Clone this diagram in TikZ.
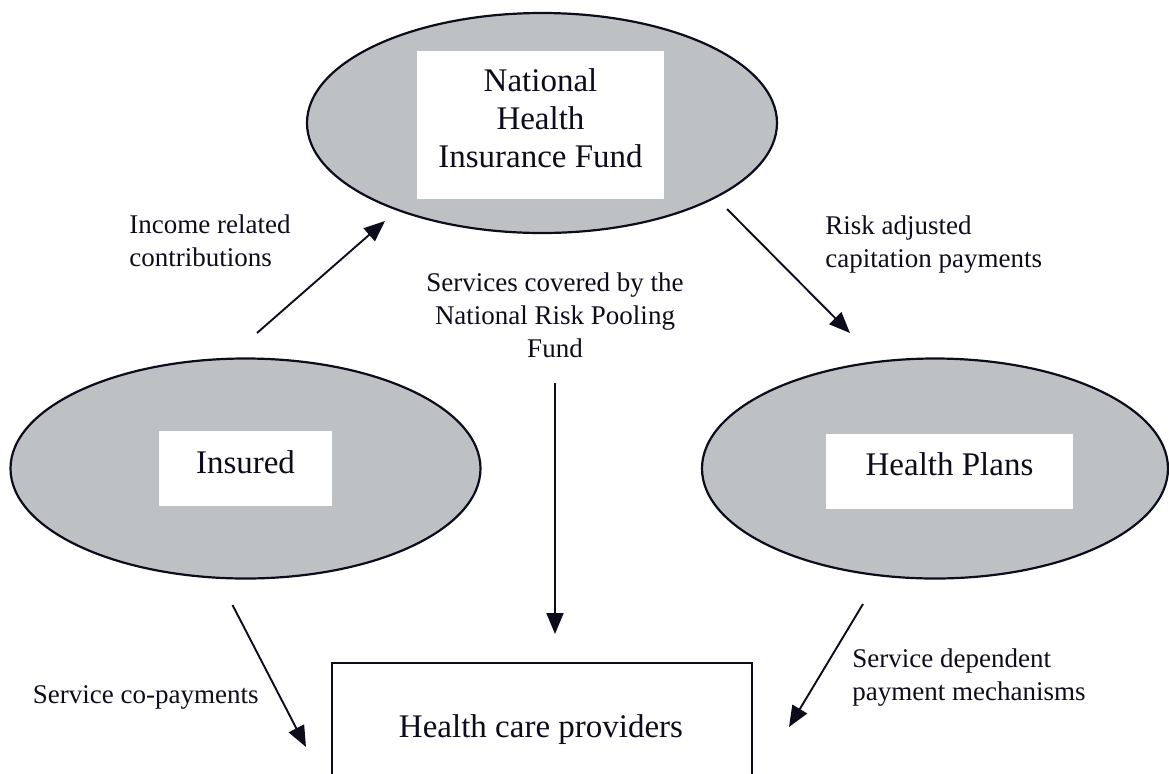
\documentclass[tikz,border=0pt]{standalone}
\usepackage{fontspec}
\setmainfont{Liberation Serif}
\usetikzlibrary{arrows.meta,shapes.geometric}
\definecolor{ink}{RGB}{12,12,28}
\definecolor{shade}{RGB}{190,193,196}
\begin{document}
\begin{tikzpicture}[x=0.5pt,y=-0.5pt,
  oval/.style={ellipse, draw=ink, line width=1.1pt, fill=shade, minimum width=235pt, minimum height=110pt, inner sep=0},
  whitebox/.style={rectangle, fill=white, draw=none, inner sep=0},
  title/.style={font=\fontsize{16.5}{19}\selectfont, text=ink, align=center, inner sep=0},
  lbl/.style={font=\fontsize{13.5}{16.5}\selectfont, text=ink, inner sep=0},
  flow/.style={draw=ink, line width=0.95pt, -{Triangle[length=10.5pt,width=8.5pt]}}
]
\clip (0,0) rectangle (1169,773);
% ovals
\node[oval] (fund) at (542,123) {};
\node[oval] (insured) at (245.5,468.5) {};
\node[oval, minimum width=233pt] (plans) at (935,468.5) {};
% white boxes
\node[whitebox, minimum width=123.5pt, minimum height=74pt] (fundbox) at (540.5,125) {};
\node[whitebox, minimum width=86.5pt, minimum height=37.5pt] (insbox) at (245.5,468.5) {};
\node[whitebox, minimum width=123.5pt, minimum height=37.5pt] (planbox) at (949.5,471.5) {};
% providers box (open at the bottom edge)
\node[rectangle, draw=ink, line width=0.95pt, minimum width=210pt, minimum height=90pt, inner sep=0] (prov) at (542,753) {};
% titles (anchor=base is the baseline of the last line)
\node[title, anchor=base] (fundtxt) at (540.5,167) {National\\Health\\Insurance Fund};
\node[title, anchor=base] (instxt) at (245.5,473) {Insured};
\node[title, anchor=base] (plantxt) at (949.5,475) {Health Plans};
\node[title, anchor=base] (provtxt) at (541,737) {Health care providers};
% labels
\node[lbl, align=left, anchor=base west] (l1) at (129,266) {Income related\\contributions};
\node[lbl, align=left, anchor=base west] (l2) at (825,267) {Risk adjusted\\capitation payments};
\node[lbl, align=center, anchor=base] (l3) at (555,357) {Services covered by the\\National Risk Pooling\\Fund};
\node[lbl, anchor=base east] (l4) at (259,703) {Service co-payments};
\node[lbl, align=left, anchor=base west] (l5) at (852,700) {Service dependent\\payment mechanisms};
% arrow end points
\coordinate (a1s) at (257,333); \coordinate (a1e) at (385,221);
\coordinate (a2s) at (727,209); \coordinate (a2e) at (850,333);
\coordinate (a3s) at (555,383); \coordinate (a3e) at (555,634);
\coordinate (a4s) at (232.5,605); \coordinate (a4e) at (306,747);
\coordinate (a5s) at (863,604); \coordinate (a5e) at (789,727);
\draw[flow] (a1s) -- (a1e);
\draw[flow] (a2s) -- (a2e);
\draw[flow] (a3s) -- (a3e);
\draw[flow] (a4s) -- (a4e);
\draw[flow] (a5s) -- (a5e);
\end{tikzpicture}
\end{document}
